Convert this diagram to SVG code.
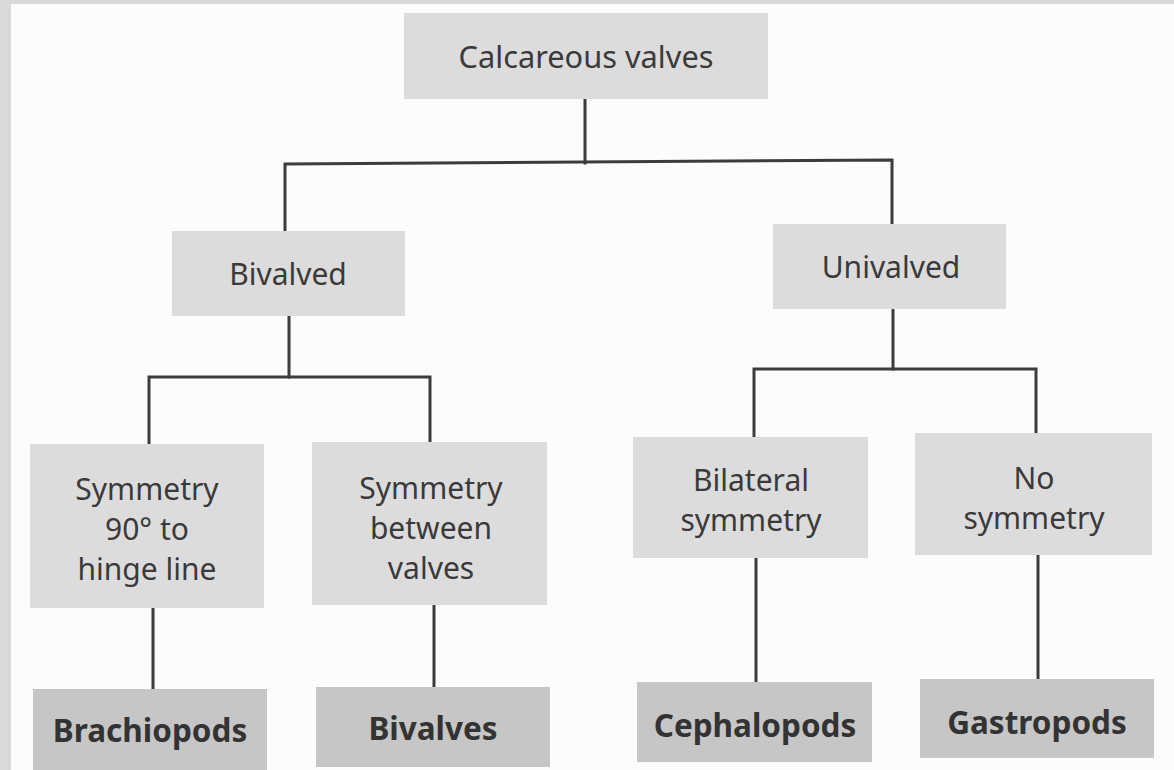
<svg xmlns="http://www.w3.org/2000/svg" width="1174" height="770" viewBox="0 0 1174 770">
<style>
.bg{fill:#d9d9d9}
.page{fill:#fcfcfc}
.box{fill:#dcdcdc}
.leaf{fill:#c6c6c6}
.t{font-family:"Noto Sans","Open Sans",sans-serif;font-size:30px;fill:#3a3a3a;text-anchor:middle;dominant-baseline:central}
.b{font-weight:bold;font-size:31.5px;fill:#333}
.c{fill:none;stroke:#3c3c3c;stroke-width:3;stroke-linejoin:miter;stroke-linecap:square}
</style>
<rect class="bg" x="0" y="0" width="1174" height="770"/>
<rect class="page" x="11" y="4" width="1163" height="766"/>
<g id="connectors">
<path class="c" d="M585,99 V163"/>
<path class="c" d="M285,232 V164 L892,160 V224"/>
<path class="c" d="M289,316 V377"/>
<path class="c" d="M149,444 V377 H430 V442"/>
<path class="c" d="M893,309 V369"/>
<path class="c" d="M754,437 V369 H1036 V433"/>
<path class="c" d="M153,608 V689"/>
<path class="c" d="M434,605 V687"/>
<path class="c" d="M756,558 V682"/>
<path class="c" d="M1038,555 V679"/>
</g>
<g id="calcareous">
<rect class="box" x="404" y="13" width="364" height="86"/>
<text class="t" x="586" y="56" textLength="255" lengthAdjust="spacingAndGlyphs">Calcareous valves</text>
</g>
<g id="bivalved">
<rect class="box" x="172" y="231" width="233" height="85"/>
<text class="t" x="288" y="273">Bivalved</text>
</g>
<g id="univalved">
<rect class="box" x="773" y="224" width="233" height="85"/>
<text class="t" x="891" y="266">Univalved</text>
</g>
<g id="sym90">
<rect class="box" x="30" y="444" width="234" height="164"/>
<text class="t" x="147" y="488">Symmetry</text>
<text class="t" x="147" y="528">90° to</text>
<text class="t" x="147" y="568">hinge line</text>
</g>
<g id="symbetween">
<rect class="box" x="312" y="442" width="235" height="163"/>
<text class="t" x="431" y="487">Symmetry</text>
<text class="t" x="431" y="527">between</text>
<text class="t" x="431" y="567">valves</text>
</g>
<g id="bilateral">
<rect class="box" x="633" y="437" width="235" height="121"/>
<text class="t" x="751" y="479">Bilateral</text>
<text class="t" x="751" y="519">symmetry</text>
</g>
<g id="nosym">
<rect class="box" x="915" y="433" width="237" height="122"/>
<text class="t" x="1034" y="477">No</text>
<text class="t" x="1034" y="517">symmetry</text>
</g>
<g id="brachiopods">
<rect class="leaf" x="33" y="689" width="234" height="81"/>
<text class="t b" x="150" y="729">Brachiopods</text>
</g>
<g id="bivalves">
<rect class="leaf" x="316" y="687" width="234" height="80"/>
<text class="t b" x="433" y="727">Bivalves</text>
</g>
<g id="cephalopods">
<rect class="leaf" x="637" y="682" width="235" height="80"/>
<text class="t b" x="755" y="724">Cephalopods</text>
</g>
<g id="gastropods">
<rect class="leaf" x="920" y="679" width="234" height="79"/>
<text class="t b" x="1037" y="721">Gastropods</text>
</g>
</svg>
